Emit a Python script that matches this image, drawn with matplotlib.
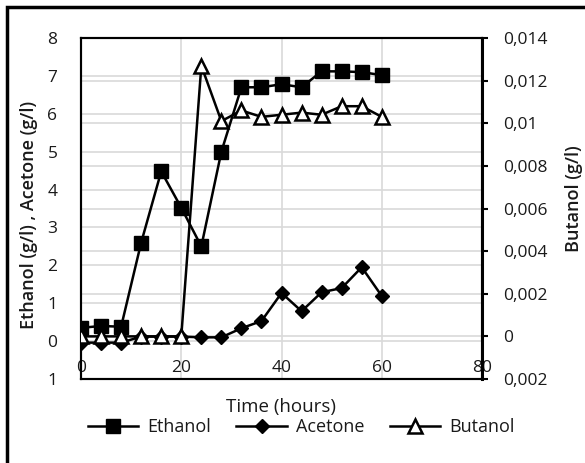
import matplotlib
matplotlib.use('Agg')

import matplotlib.pyplot as plt
import matplotlib.patches as patches
from matplotlib.transforms import blended_transform_factory

plt.rcParams['font.family'] = ['Open Sans', 'DejaVu Sans']

# data
hours = [0, 4, 8, 12, 16, 20, 24, 28, 32, 36, 40, 44, 48, 52, 56, 60]
ethanol = [0.35, 0.4, 0.38, 2.6, 4.48, 3.52, 2.5, 5.0, 6.7, 6.7, 6.78, 6.7, 7.12, 7.12, 7.1, 7.02]
acetone = [-0.04, -0.04, -0.04, 0.12, 0.12, 0.12, 0.1, 0.1, 0.34, 0.53, 1.27, 0.79, 1.29, 1.4, 1.95, 1.19]
butanol = [0.0, 0.0, 0.0, 0.0, 0.0, 0.0, 0.0127, 0.0101, 0.0106, 0.0103, 0.0104, 0.0105, 0.0104, 0.0108, 0.0108, 0.0103]

x_ticks = [0, 20, 40, 60, 80]
left_ticks = [-1, 0, 1, 2, 3, 4, 5, 6, 7, 8]
left_labels = ['1', '0', '1', '2', '3', '4', '5', '6', '7', '8']
right_ticks = [-0.002, 0, 0.002, 0.004, 0.006, 0.008, 0.01, 0.012, 0.014]
right_labels = ['0,002', '0', '0,002', '0,004', '0,006', '0,008', '0,01', '0,012', '0,014']

txt = '#1a1a1a'

fig = plt.figure(figsize=(5.85, 4.63), dpi=100)
ax = fig.add_axes([0.1385, 0.1814, 0.6855, 0.7365])
ax2 = ax.twinx()

ax.set_xlim(0, 80)
ax.set_ylim(-1, 8)
ax2.set_ylim(-0.002, 0.014)

grid_col = '#d9d9d9'
# primary grid
for v in left_ticks:
    ax.axhline(v, color=grid_col, lw=1.2, zorder=0)
for v in x_ticks:
    ax.axvline(v, color=grid_col, lw=1.2, zorder=0)
# secondary grid drawn on the primary axes so it stays under the lines
tr = blended_transform_factory(ax.transAxes, ax2.transData)
for v in right_ticks:
    ax.plot([0, 1], [v, v], color=grid_col, lw=1.2, transform=tr, zorder=0)

ax.plot(hours, ethanol, color='black', lw=1.8, marker='s', ms=9.5,
        mfc='black', mec='black', label='Ethanol', zorder=3)
ax.plot(hours, acetone, color='black', lw=1.8, marker='D', ms=7,
        mfc='black', mec='black', label='Acetone', zorder=3)
ax2.plot(hours, butanol, color='black', lw=1.8, marker='^', ms=10.5,
         mfc='white', mec='black', mew=1.8, label='Butanol', zorder=3)

ax.set_xticks(x_ticks)
ax.set_xticklabels([str(v) for v in x_ticks])
ax.set_yticks(left_ticks)
ax.set_yticklabels(left_labels)
ax.tick_params(axis='x', length=0, pad=-13.5, labelsize=12.5, colors=txt)
ax.tick_params(axis='y', length=0, pad=17, labelsize=12.5, colors=txt)

ax2.set_yticks(right_ticks)
ax2.set_yticklabels(right_labels)
ax2.tick_params(axis='y', direction='out', length=4, width=1.5, pad=11,
                labelsize=12.5, colors='black', labelcolor=txt)

for a in (ax, ax2):
    for s in a.spines.values():
        s.set_color('black')
        s.set_linewidth(1.5)
ax2.spines['right'].set_linewidth(2.2)

fig.text(0.05, 0.536, 'Ethanol (g/l) , Acetone (g/l)', rotation=90,
         ha='center', va='center', fontsize=13, fontweight='semibold', color=txt)
fig.text(0.981, 0.572, 'Butanol (g/l)', rotation=90,
         ha='center', va='center', fontsize=13, fontweight='semibold', color=txt)
fig.text(0.48, 0.12, 'Time (hours)', ha='center', va='center',
         fontsize=13.5, color=txt)

h1, l1 = ax.get_legend_handles_labels()
h2, l2 = ax2.get_legend_handles_labels()
leg = fig.legend(h1 + h2, l1 + l2, loc='center', bbox_to_anchor=(0.515, 0.077),
                 ncol=3, frameon=False, fontsize=13, handlelength=2.8,
                 columnspacing=1.4, handletextpad=0.5, borderpad=0.1)
for t in leg.get_texts():
    t.set_color(txt)

# outer chart border
fig.patches.append(patches.Rectangle((7 / 585, -0.1), 1.2, 1 - 7 / 463 + 0.1,
                                     transform=fig.transFigure, fill=False,
                                     lw=2.5, edgecolor='black'))

fig.savefig('out.png', dpi=100)
